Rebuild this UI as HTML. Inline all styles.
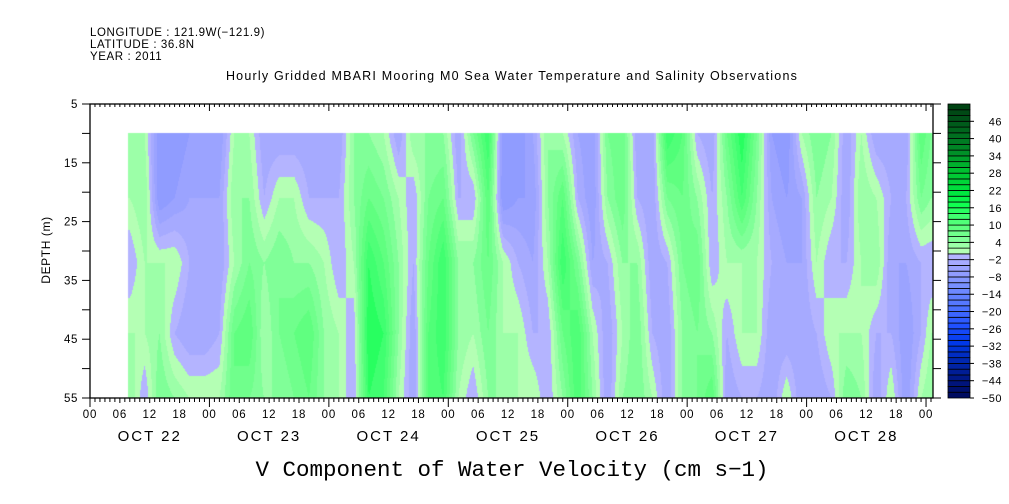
<!DOCTYPE html>
<html><head><meta charset="utf-8"><style>
html,body{margin:0;padding:0;background:#fff;}
#wrap{position:relative;width:1009px;height:504px;overflow:hidden;font-family:"Liberation Sans",sans-serif;}
svg{position:absolute;left:0;top:0;}
canvas{position:absolute;left:0;top:0;}
</style></head><body>
<div id="wrap">
<canvas id="cv" width="1009" height="504"></canvas>
<svg id="sv" width="1009" height="504">
<text x="90" y="36" font-size="11.5" letter-spacing="0.6">LONGITUDE : 121.9W(−121.9)</text>
<text x="90" y="48" font-size="11.5" letter-spacing="0.6">LATITUDE : 36.8N</text>
<text x="90" y="60" font-size="11.5" letter-spacing="0.6">YEAR : 2011</text>
<text x="512" y="80" font-size="12.5" letter-spacing="1.2" text-anchor="middle">Hourly Gridded MBARI Mooring M0 Sea Water Temperature and Salinity Observations</text>
<text x="512" y="476" font-size="22.5" font-family="Liberation Mono, monospace" text-anchor="middle">V Component of Water Velocity (cm s−1)</text>
<text transform="translate(50,250) rotate(-90)" font-size="12" letter-spacing="0.6" text-anchor="middle">DEPTH (m)</text>
<g id="axes"></g>
</svg>
</div>
<script>
// time in hours since OCT 22 00:00, depth in m
const hours=[8,11,14,17,20,23,26,29,32,35,38,41,44,47,50,53,56,59,62,65,68,71,74,77,80,83,86,89,92,95,98,101,104,107,110,113,116,119,122,125,128,131,134,137,140,143,146,149,152,155,158,161,164,167,169];
const depths=[10,21,32,44,55];
const vProfiles=[
[4,2,-2,2,4],[2,4,2,2,-2],[-8,-8,2,4,6],[-8,-6,2,-2,4],[-6,-4,-2,-4,2],[-6,-4,-2,-4,2],[-6,-4,-4,-2,2],
[2,4,2,8,8],[2,4,6,10,6],[-4,-2,4,2,4],[-4,2,6,6,4],[-4,2,4,8,6],[-4,-2,4,10,8],[-4,-2,2,4,4],
[-4,-2,-2,2,2],[4,4,2,-2,-2],[4,8,14,16,14],[2,6,10,14,12],[-4,2,4,4,2],[4,-2,-2,-4,-4],[4,6,8,10,10],
[4,8,14,14,12],[-4,-2,4,4,2],[6,-2,4,2,-2],[14,10,8,6,4],[-8,-8,2,2,4],[-8,-6,-2,2,2],
[-4,-6,-4,-2,2],[4,4,2,-2,-2],[2,10,14,8,4],[-4,-2,6,12,12],[-6,-6,-4,2,4],[6,4,-2,-4,-4],
[8,8,4,2,4],[-4,-2,4,6,6],[-4,-4,-4,-2,2],[14,6,-2,-4,-4],[10,8,6,4,4],[-2,4,8,6,6],[-4,-2,-2,4,10],
[8,4,2,-2,-4],[16,12,2,2,-2],[6,4,2,2,-2],[-6,-4,-2,-4,-4],[-8,-6,-4,-4,2],[2,-4,-4,-4,-4],
[6,4,2,-2,-4],[4,2,-2,2,-2],[-4,-4,-2,2,6],[2,4,2,2,4],[-4,2,4,-2,-4],[-4,-2,-4,-2,2],
[-4,-2,-4,-6,-6],[10,6,-2,-2,2],[6,4,-2,2,4]];
const yTicks=[5,15,25,35,45,55];
const cbLevels=[46,40,34,28,22,16,10,4,-2,-8,-14,-20,-26,-32,-38,-44,-50];
const hourLabels=["00","06","12","18"];
const dayLabels=["OCT 22","OCT 23","OCT 24","OCT 25","OCT 26","OCT 27","OCT 28"];

const X0=90,X1=933,Y0=104,Y1=398,HMAX=169.4;
function xOf(h){return X0+h*(X1-X0)/HMAX;}
function yOf(d){return Y0+(d-5)*(Y1-Y0)/50;}
function hOf(x){return (x-X0)*HMAX/(X1-X0);}
function dOf(y){return 5+(y-Y0)*50/(Y1-Y0);}
const anchors=[[-50,[0,12,96]],[-44,[0,24,136]],[-38,[0,40,176]],[-32,[0,56,232]],[-26,[32,80,255]],[-20,[74,112,255]],[-12,[120,144,255]],[-8,[144,156,255]],[-4,[166,170,255]],[-2,[180,180,255]],
[0,[180,255,180]],[2,[156,255,168]],[4,[128,255,152]],[8,[96,255,128]],[12,[64,255,112]],[16,[16,255,80]],[20,[0,232,64]],[28,[0,192,48]],[34,[0,144,40]],[40,[0,112,32]],[46,[0,80,24]],[52,[0,60,16]]];
function colorOf(v){
  let key=Math.floor(v/2)*2; if(key<-50)key=-50; if(key>50)key=50;
  let c=anchors[0][1];
  for(let i=0;i<anchors.length-1;i++){
    const a=anchors[i],b=anchors[i+1];
    if(key>=a[0]&&key<=b[0]){const t=(key-a[0])/(b[0]-a[0]);c=a[1].map((q,j)=>Math.round(q+(b[1][j]-q)*t));break;}
    if(key>b[0])c=b[1];
  }
  return c;
}
function interp(arr,x){
  if(x<=arr[0])return [0,0];
  for(let i=0;i<arr.length-1;i++) if(x<=arr[i+1]) return [i,(x-arr[i])/(arr[i+1]-arr[i])];
  return [arr.length-2,1];
}
function valueAt(h,d){
  const [i,t]=interp(hours,h),[j,s]=interp(depths,d);
  const a=vProfiles[i][j],b=vProfiles[i][j+1],c=vProfiles[i+1][j],e=vProfiles[i+1][j+1];
  return (a*(1-s)+b*s)*(1-t)+(c*(1-s)+e*s)*t;
}
const cv=document.getElementById('cv'),ctx=cv.getContext('2d');
const img=ctx.createImageData(1009,504);
const xs=Math.round(xOf(hours[0]-0.4)),xe=Math.round(xOf(hours[hours.length-1]+0.4)),ys=Math.round(yOf(depths[0])),ye=Y1;
for(let x=xs;x<Math.min(xe,X1);x++){for(let y=ys;y<ye;y++){
  const c=colorOf(valueAt(hOf(x+0.5),dOf(y+0.5)));const k=(y*1009+x)*4;
  img.data[k]=c[0];img.data[k+1]=c[1];img.data[k+2]=c[2];img.data[k+3]=255;}}
ctx.putImageData(img,0,0);

const NS='http://www.w3.org/2000/svg',g=document.getElementById('axes');
function mk(tag,at,txt){const e=document.createElementNS(NS,tag);for(const k in at)e.setAttribute(k,at[k]);if(txt!==undefined)e.textContent=txt;g.appendChild(e);return e;}
let e=mk('rect',{x:X0,y:Y0,width:X1-X0,height:Y1-Y0,fill:'none',stroke:'#000','stroke-width':1.3});


for(let h=0;h<=169;h++){
  const x=xOf(h),maj=h%24===0,six=h%6===0;
  e=mk('line',{x1:x,x2:x,y1:Y0,y2:Y0+(maj?7:3),stroke:'#000','stroke-width':1});
  
  
  e=mk('line',{x1:x,x2:x,y1:Y1,y2:Y1+(maj?9:(six?5:4)),stroke:'#000','stroke-width':1});
  
  
  if(six){e=mk('text',{x:x,y:418,'font-size':11.5,'letter-spacing':0.8,'text-anchor':'middle'},hourLabels[(h/6)%4]);
  
  }
}
dayLabels.forEach((d,i)=>{e=mk('text',{x:xOf(i*24+12),y:441,'font-size':15,'letter-spacing':2,'text-anchor':'middle'},d);
  
  });
for(let d=5;d<=55;d+=5){
  const y=yOf(d);
  e=mk('line',{x1:X0-8,x2:X0,y1:y,y2:y,stroke:'#000','stroke-width':1});
  
  
  e=mk('line',{x1:X1,x2:X1+8,y1:y,y2:y,stroke:'#000','stroke-width':1});
  
  
}
yTicks.forEach(d=>{e=mk('text',{x:78,y:yOf(d)+4,'font-size':11.5,'letter-spacing':0.6,'text-anchor':'end'},String(d));
  
  });
// colorbar
const CBX=948,CBW=22,CBT=104,CBB=398,NB=51,bh=(CBB-CBT)/NB;
for(let i=0;i<NB;i++){const lv=-50+2*i;const c=colorOf(lv+1);
  e=mk('rect',{x:CBX,y:CBB-(i+1)*bh,width:CBW,height:bh,fill:`rgb(${c[0]},${c[1]},${c[2]})`,stroke:'#000','stroke-width':0.8});
  
  }
cbLevels.forEach(v=>{const y=CBB-((v+50)/2)*bh;
  e=mk('line',{x1:CBX+CBW,x2:CBX+CBW+4,y1:y,y2:y,stroke:'#000'});
  
  
  e=mk('text',{x:1002,y:y+4,'font-size':11,'letter-spacing':0.5,'text-anchor':'end'},String(v).replace('-','−'));
  
  });
</script>
</body></html>
